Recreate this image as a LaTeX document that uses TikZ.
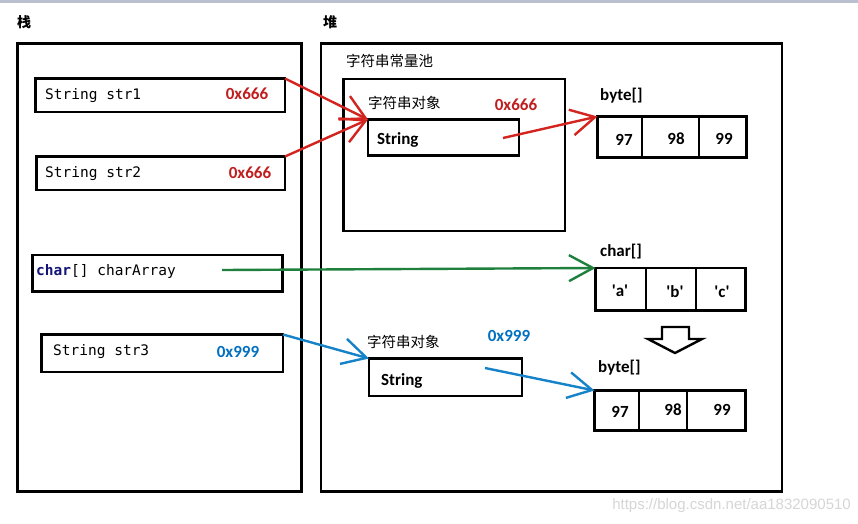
\documentclass[tikz,border=0pt]{standalone}
\usepackage{fontspec}
\setmainfont{Carlito}
\newfontfamily\cjk{Noto Sans CJK SC}
\newfontfamily\monof{DejaVu Sans Mono}
\newfontfamily\wmfont{Liberation Sans}
\usetikzlibrary{arrows.meta,calc,fit}
\definecolor{txtred}{RGB}{192,30,30}
\definecolor{arrred}{RGB}{212,36,32}
\definecolor{txtblue}{RGB}{0,112,192}
\definecolor{arrblue}{RGB}{22,130,200}
\definecolor{arrgreen}{RGB}{30,128,60}
\definecolor{kwnavy}{RGB}{20,20,120}
\definecolor{stripcol}{RGB}{186,192,208}
\begin{document}
\begin{tikzpicture}[x=1pt,y=-1pt,
  box/.style={draw, line width=2.6pt, inner sep=0pt, outer sep=0pt},
  lbl/.style={font=\bfseries\fontsize{17}{19}\selectfont, inner sep=0pt},
  code/.style={font=\monof\fontsize{14.5}{16}\selectfont, inner sep=0pt, anchor=west},
  zh/.style={font=\cjk\fontsize{14.5}{16}\selectfont, inner sep=0pt, anchor=west},
  zhb/.style={font=\cjk\bfseries\fontsize{14}{16}\selectfont, inner sep=0pt},
  ptr/.style={line width=2.4pt, -{Straight Barb[length=24pt,width=26pt,line width=2.4pt]}}]
\useasboundingbox (0,0) rectangle (858,523);
\fill[white] (0,0) rectangle (858,523);
\fill[stripcol] (0,0) rectangle (858,3);

% titles
\node[zhb] (tstack) at (24,22) {栈};
\node[zhb] (theap) at (330,22) {堆};

% big boxes
\node[box, fit={(17.5,43.5)(301.5,491.5)}] (stack) {};
\node[box, fit={(321,43.5)(782,491.5)}] (heap) {};
\node[box, fit={(343.5,79)(565,231)}] (pool) {};
\node[zh] (tpool) at (346,61) {字符串常量池};

% stack entries
\node[box, fit={(35.5,78.5)(285,112)}] (s1) {};
\node[code] (s1t) at (45,96) {String str1};
\node[lbl, text=txtred] (s1a) at (247,94) {0x666};

\node[box, fit={(36.5,156.5)(285,190)}] (s2) {};
\node[code] (s2t) at (45,174) {String str2};
\node[lbl, text=txtred] (s2a) at (250,173) {0x666};

\node[box, fit={(32.5,255)(282.5,291.5)}] (ca) {};
\node[code] (cat) at (36,271) {\textcolor{kwnavy}{\bfseries char}[] charArray};

\node[box, fit={(41.5,334.5)(283,372)}] (s3) {};
\node[code] (s3t) at (53,352) {String str3};
\node[lbl, text=txtblue] (s3a) at (238,352) {0x999};

% string object in pool
\node[zh] (o1l) at (368,103) {字符串对象};
\node[lbl, text=txtred] (o1a) at (516,105) {0x666};
\node[box, fit={(368,119.5)(519,155.5)}] (o1) {};
\node[lbl, anchor=west] (o1t) at (377,140) {String};

% byte array 1
\node[lbl, anchor=west] (b1l) at (600,96) {byte[]};
\node[box, fit={(597.5,116.5)(642,157.5)}] (b1a) {};
\node[box, fit={(642,116.5)(699,157.5)}] (b1b) {};
\node[box, fit={(699,116.5)(746.5,157.5)}] (b1c) {};
\node[lbl] (b1at) at (624,140) {97};
\node[lbl] (b1bt) at (676,139) {98};
\node[lbl] (b1ct) at (724,139) {99};

% char array
\node[lbl, anchor=west] (cl) at (600,252) {char[]};
\node[box, fit={(595.5,268)(646,310.5)}] (c1) {};
\node[box, fit={(646,268)(696,310.5)}] (c2) {};
\node[box, fit={(696,268)(745.5,310.5)}] (c3) {};
\node[lbl] (c1t) at (620,291) {\textquotesingle a\textquotesingle};
\node[lbl] (c2t) at (675,292) {\textquotesingle b\textquotesingle};
\node[lbl] (c3t) at (722,292) {\textquotesingle c\textquotesingle};

% hollow arrow
\draw[line width=2.4pt, line join=miter]
  (662,327) -- (689,327) -- (689,339) -- (702,339) -- (675,353) -- (648,339) -- (662,339) -- cycle;

% string object 2
\node[zh] (o2l) at (367,342) {字符串对象};
\node[lbl, text=txtblue] (o2a) at (509,336) {0x999};
\node[box, fit={(369,358.5)(522,396)}] (o2) {};
\node[lbl, anchor=west] (o2t) at (381,381) {String};

% byte array 2
\node[lbl, anchor=west] (b2l) at (598,368) {byte[]};
\node[box, fit={(594.5,390.5)(639,430.5)}] (b2a) {};
\node[box, fit={(639,390.5)(687,430.5)}] (b2b) {};
\node[box, fit={(687,390.5)(745.5,430.5)}] (b2c) {};
\node[lbl] (b2at) at (620,412) {97};
\node[lbl] (b2bt) at (673,410) {98};
\node[lbl] (b2ct) at (722,410) {99};

% watermark
\node[font=\wmfont\fontsize{15}{16}\selectfont, text=black!16, anchor=east, inner sep=0pt] (wm) at (851,506) {https://blog.csdn.net/aa1832090510};

% pointers
\coordinate (o1src) at (503,138);
\coordinate (casrc) at (222,270);
\coordinate (o2src) at (485,368);
\draw[ptr, arrred] (s1.north east) -- (o1.north west);
\draw[ptr, arrred] (s2.north east) -- (o1.north west);
\draw[ptr, arrred] (o1src) -- (b1a.north west);
\draw[ptr, arrgreen] (casrc) -- (c1.north west);
\draw[ptr, arrblue] (s3.north east) -- (o2.north west);
\draw[ptr, arrblue] (o2src) -- (b2a.north west);
\end{tikzpicture}
\end{document}
